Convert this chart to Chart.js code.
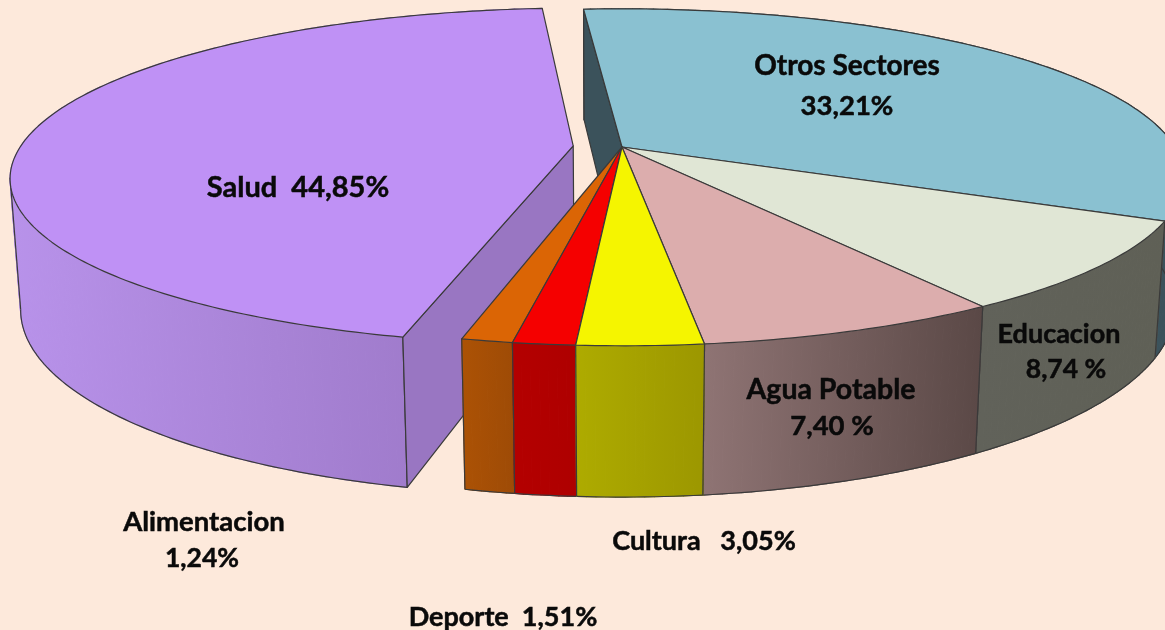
<!DOCTYPE html>
<html>
<head>
<meta charset="utf-8">
<style>
    html, body { margin: 0; padding: 0; background: #FDE9DB; overflow: hidden; }
    canvas { display: block; }
</style>
<script src="https://cdn.jsdelivr.net/npm/chart.js@4"></script>
</head>
<body>
<canvas id="chart" width="1165" height="630"></canvas>
<script>
const categories = ["Otros Sectores", "Educacion", "Agua Potable", "Cultura", "Deporte", "Alimentacion", "Salud"];
const shares = [33.21, 8.74, 7.40, 3.05, 1.51, 1.24, 44.85];
const explodePx = [0, 0, 0, 0, 0, 0, 49];

const topColors = ["#8AC1D1", "#E0E6D5", "#DCADAD", "#F5F500", "#F50000", "#DB6505", "#BF91F5"];
const wallFrom = ["#3B525B", "#61625A", "#8F7474", "#AEAB00", "#B40000", "#AC5205", "#B892EA"];
const wallTo = ["#3B525B", "#5F6056", "#5A4846", "#9C9700", "#AE0000", "#9E4B06", "#9874C2"];
const cutWallColor = ["#3B525B", null, null, null, null, null, "#9976C2"];
const lineColor = "#3A3A3A";

// perspective of the pie: apex on screen, radii, tilt, thickness
const view = { cx: 622, cy: 147, a: 553, b: 163, p: 0.18, q: 0.017, h: 130 };

// text placed by hand, [text, center x, baseline y, font px]
const labels = [
    ["Otros Sectores", 847, 75, 28],
    ["33,21%", 847, 115, 27.5],
    ["Educacion", 1059, 343, 27],
    ["8,74 %", 1066, 378, 26.5],
    ["Agua Potable", 831, 399, 28.5],
    ["7,40 %", 832, 435, 27.5],
    ["Salud  44,85%", 298, 197, 29],
    ["Cultura   3,05%", 704, 550, 27],
    ["Alimentacion", 204, 531, 27.5],
    ["1,24%", 202, 567, 26.5],
    ["Deporte  1,51%", 503, 626, 27],
];

function project(u, v, z) {
    const w = 1 - view.p * v + view.q * z;
    return [view.cx + view.a * u / w, view.cy + (view.b * v + view.h * z) / w];
}

function tracePolygon(ctx, points) {
    ctx.beginPath();
    points.forEach((pt, i) => {
        if(i === 0) ctx.moveTo(pt[0], pt[1]);
        else ctx.lineTo(pt[0], pt[1]);
    });
}

function paint(ctx, points, fill) {
    tracePolygon(ctx, points);
    ctx.closePath();
    ctx.fillStyle = fill;
    ctx.fill();
    ctx.strokeStyle = lineColor;
    ctx.stroke();
}

function strokeLine(ctx, points) {
    tracePolygon(ctx, points);
    ctx.strokeStyle = lineColor;
    ctx.stroke();
}

// rim points of one slice, angles come from the arc element
function sliceGeometry(arc) {
    const start = arc.startAngle + Math.PI / 2;
    const end = arc.endAngle + Math.PI / 2;
    const mid = (start + end) / 2;
    const d = arc.options.offset / view.a;
    const ox = Math.sin(mid) * d;
    const oy = -Math.cos(mid) * d;
    const steps = Math.max(4, Math.ceil((end - start) / 0.015));
    const rim = [];
    for(let i = 0; i <= steps; i++) {
        const t = start + (end - start) * i / steps;
        rim.push([Math.sin(t) + ox, -Math.cos(t) + oy]);
    }
    return { rim, ox, oy, mid };
}

function drawRimWall(ctx, rim, i) {
    const upper = rim.map(pt => project(pt[0], pt[1], 0));
    const lower = rim.map(pt => project(pt[0], pt[1], 1));
    const xs = upper.concat(lower).map(pt => pt[0]);
    const grad = ctx.createLinearGradient(Math.min(...xs), 0, Math.max(...xs), 0);
    grad.addColorStop(0, wallFrom[i]);
    grad.addColorStop(1, wallTo[i]);

    // swept strip by strip so the left silhouette stays filled
    ctx.fillStyle = grad;
    ctx.strokeStyle = grad;
    for(let k = 0; k < rim.length - 1; k++) {
        tracePolygon(ctx, [upper[k], upper[k + 1], lower[k + 1], lower[k]]);
        ctx.closePath();
        ctx.fill();
        ctx.stroke();
    }

    // side silhouette where the rim turns away, the back of the lower curve is hidden
    const upperXs = upper.map(pt => pt[0]);
    const lowerXs = lower.map(pt => pt[0]);
    const leftTop = upperXs.indexOf(Math.min(...upperXs));
    const leftBottom = lowerXs.indexOf(Math.min(...lowerXs));
    if(leftTop > 0 && leftTop < rim.length - 1) {
        strokeLine(ctx, lower.slice(0, leftBottom + 1));
        strokeLine(ctx, [upper[leftTop], lower[leftBottom]]);
    } else {
        strokeLine(ctx, lower);
        strokeLine(ctx, [upper[rim.length - 1], lower[rim.length - 1]]);
    }
    strokeLine(ctx, [upper[0], lower[0]]);
}

const pie3d = {
    id: "pie3d",
    beforeDatasetsDraw(chart) {
        const { ctx } = chart;
        const arcs = chart.getDatasetMeta(0).data;
        const slices = arcs.map((arc, i) => ({ i, geo: sliceGeometry(arc) }));
        const order = slices.slice().sort((s1, s2) => -Math.cos(s1.geo.mid) - -Math.cos(s2.geo.mid));

        ctx.save();
        ctx.lineWidth = 1.2;
        ctx.lineJoin = "round";

        order.forEach(({ i, geo }) => {
            const { rim, ox, oy } = geo;
            drawRimWall(ctx, rim, i);
            if(cutWallColor[i]) {
                const edge = rim[0];
                paint(ctx, [
                    project(ox, oy, 0), project(edge[0], edge[1], 0),
                    project(edge[0], edge[1], 1), project(ox, oy, 1),
                ], cutWallColor[i]);
            }
        });

        order.forEach(({ i, geo }) => {
            const { rim, ox, oy } = geo;
            paint(ctx, [project(ox, oy, 0)].concat(rim.map(pt => project(pt[0], pt[1], 0))), topColors[i]);
        });
        ctx.restore();
        return false;
    },
    afterDraw(chart) {
        const { ctx } = chart;
        ctx.save();
        ctx.fillStyle = "#0A0A0A";
        ctx.strokeStyle = "#0A0A0A";
        ctx.lineWidth = 0.5;
        ctx.textAlign = "center";
        ctx.textBaseline = "alphabetic";
        labels.forEach(([text, x, y, size]) => {
            ctx.font = "bold " + size + "px Lato";
            ctx.fillText(text, x, y);
            ctx.strokeText(text, x, y);
        });
        ctx.restore();
    },
};

new Chart(document.getElementById("chart"), {
    type: "pie",
    data: {
        labels: categories,
        datasets: [{ data: shares, backgroundColor: topColors, offset: explodePx }],
    },
    options: {
        responsive: false,
        animation: false,
        events: [],
        rotation: -4.7,
        plugins: { legend: { display: false }, tooltip: { enabled: false } },
    },
    plugins: [pie3d],
});
</script>
</body>
</html>
